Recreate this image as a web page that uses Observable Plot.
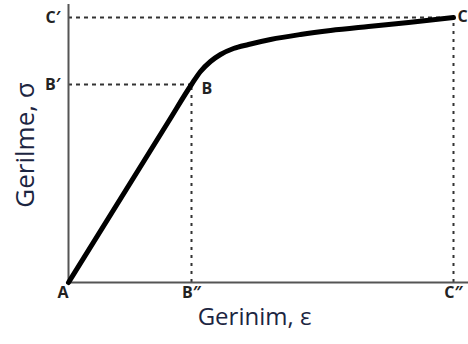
<!DOCTYPE html>
<html>
<head>
<meta charset="utf-8">
<script src="https://cdn.jsdelivr.net/npm/d3@7"></script>
<script src="https://cdn.jsdelivr.net/npm/@observablehq/plot@0.6"></script>
<style>
  html, body { margin: 0; padding: 0; background: #fff; }
  #chart { width: 468px; height: 344px; }
</style>
</head>
<body>
<div id="chart"></div>
<script>
// Stress–strain curve (arbitrary units): linear elastic part A→B, then yielding up to C
const strain = [0, 100, 123, 132, 142, 152, 165, 180, 202, 232, 262, 300, 340, 385];
const stress = [0, 161, 198, 211, 221, 228, 234, 238, 243, 248, 252, 256, 260, 265];

// Characteristic points
const pointNames = ["B", "C"];
const pointStrain = [123, 385];
const pointStress = [198, 265];

// Axis tick labels
const xTickValues = [0, 123, 385];
const xTickLabels = ["A", "B″", "C″"];
const yTickValues = [198, 265];
const yTickLabels = ["B′", "C′"];

const xTitle = "Gerinim, ε";
const yTitle = "Gerilme, σ";

const curve = strain.map((s, i) => ({strain: s, stress: stress[i]}));
const pts = pointNames.map((n, i) => ({name: n, strain: pointStrain[i], stress: pointStress[i]}));

const font = "'Open Sans', 'Noto Sans', sans-serif";
const guideColor = "#333";
const labelStyle = {fontSize: 16, fontWeight: "bold", fill: "#222"};

const chart = Plot.plot({
  width: 468,
  height: 344,
  marginLeft: 68,
  marginRight: 0,
  marginTop: 4,
  marginBottom: 62,
  style: {fontFamily: font, color: "#222", background: "#fff"},
  x: {domain: [0, 400], axis: null},
  y: {domain: [0, 278]},
  marks: [
    // dotted guide lines from each point to the axes
    Plot.ruleY(pts, {y: "stress", x1: 0, x2: "strain", stroke: guideColor, strokeWidth: 2, strokeDasharray: "4,4"}),
    Plot.ruleX(pts, {x: "strain", y1: 0, y2: "stress", stroke: guideColor, strokeWidth: 2, strokeDasharray: "3,5"}),
    // axis lines
    Plot.ruleX([0], {stroke: "#555", strokeWidth: 2}),
    Plot.ruleY([0], {stroke: "#555", strokeWidth: 2}),
    // the curve
    Plot.line(curve, {x: "strain", y: "stress", curve: "monotone-x", stroke: "#000", strokeWidth: 5, strokeLinecap: "round", strokeLinejoin: "round"}),
    // point labels
    Plot.text(pts.slice(0, 1), {x: "strain", y: "stress", text: "name", textAnchor: "start", dx: 10, dy: 4, ...labelStyle}),
    Plot.text(pts.slice(1), {x: "strain", y: "stress", text: "name", textAnchor: "start", dx: 4, dy: -1, ...labelStyle}),
    // y tick labels
    Plot.axisY({ticks: yTickValues, tickFormat: (d) => yTickLabels[yTickValues.indexOf(d)], tickSize: 0, tickPadding: 8, fontSize: 16, fontWeight: "bold", label: null}),
    // x tick labels
    Plot.text(xTickValues.slice(0, 1), {x: (d) => d, text: (d) => xTickLabels[xTickValues.indexOf(d)], frameAnchor: "bottom", dy: 15, textAnchor: "end", ...labelStyle}),
    Plot.text(xTickValues.slice(1), {x: (d) => d, text: (d) => xTickLabels[xTickValues.indexOf(d)], frameAnchor: "bottom", dy: 15, ...labelStyle}),
    // axis titles
    Plot.text([xTitle], {text: (d) => d, frameAnchor: "bottom", textAnchor: "middle", dx: -14, dy: 42, fontSize: 24, letterSpacing: "1px", fill: "#1c2541"}),
    Plot.text([yTitle], {text: (d) => d, frameAnchor: "left", textAnchor: "middle", dx: -43, dy: 1.5, rotate: -90, fontSize: 26, letterSpacing: "1.5px", fill: "#1c2541"})
  ]
});

document.getElementById("chart").appendChild(chart);
</script>
</body>
</html>
